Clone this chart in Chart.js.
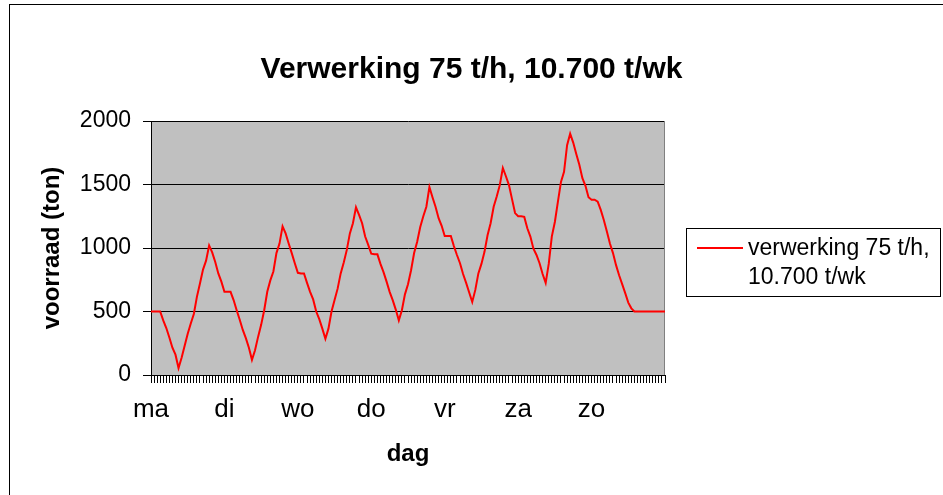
<!DOCTYPE html>
<html><head><meta charset="utf-8">
<script src="https://cdn.jsdelivr.net/npm/chart.js@4.4.1/dist/chart.umd.min.js"></script>
<style>html,body{margin:0;padding:0;background:#fff;} canvas{display:block;}</style>
</head><body>
<canvas id="c" width="943" height="495"></canvas>
<script>
const chartTitle = 'Verwerking 75 t/h, 10.700 t/wk';
const yAxisTitle = 'voorraad (ton)';
const xAxisTitle = 'dag';
const dayNames = ['ma', 'di', 'wo', 'do', 'vr', 'za', 'zo'];
const seriesNameLines = ['verwerking 75 t/h,', '10.700 t/wk'];
const yTicks = [0, 500, 1000, 1500, 2000];
// voorraad per uur (ton), uur 0 .. 168
const stock = [
  500, 500, 500, 500, 430, 370, 295, 215, 160, 55,
  135, 230, 325, 405, 480, 615, 720, 830, 900, 1020,
  965, 890, 800, 735, 655, 655, 655, 590, 510, 435,
  355, 290, 215, 120, 195, 300, 395, 510, 655, 745,
  815, 960, 1035, 1170, 1115, 1035, 960, 880, 805, 800,
  800, 725, 655, 595, 500, 440, 365, 285, 365, 500,
  590, 680, 800, 885, 985, 1115, 1195, 1320, 1260, 1195,
  1090, 1025, 955, 950, 950, 875, 810, 735, 655, 590,
  515, 430, 510, 635, 715, 825, 960, 1050, 1165, 1250,
  1325, 1480, 1400, 1325, 1235, 1175, 1095, 1095, 1095, 1015,
  945, 880, 795, 725, 650, 575, 670, 800, 875, 970,
  1100, 1195, 1325, 1405, 1495, 1630, 1565, 1495, 1385, 1275,
  1250, 1250, 1245, 1155, 1090, 995, 945, 880, 795, 725,
  875, 1090, 1205, 1365, 1520, 1600, 1810, 1900, 1830, 1740,
  1655, 1550, 1490, 1400, 1380, 1380, 1365, 1300, 1220, 1130,
  1035, 960, 865, 785, 715, 645, 570, 525, 500, 500,
  500, 500, 500, 500, 500, 500, 500, 500, 500
];
const hourLabels = stock.map((_, h) => (h % 24 === 0 && h / 24 < dayNames.length) ? dayNames[h / 24] : '');

Chart.defaults.font.family = "'Liberation Sans', Arial, sans-serif";
Chart.defaults.color = '#000';

const framePlugin = {
  id: 'frame',
  beforeDraw(chart) {
    const {ctx, chartArea: a} = chart;
    ctx.save();
    ctx.fillStyle = '#fff';
    ctx.fillRect(0, 0, chart.width, chart.height);
    ctx.strokeStyle = '#000';
    ctx.lineWidth = 1;
    ctx.strokeRect(9.5, 4.5, 2000, 2000);
    ctx.fillStyle = '#C0C0C0';
    ctx.fillRect(a.left, a.top, a.right - a.left, a.bottom - a.top);
    ctx.restore();
  },
  beforeDatasetsDraw(chart) {
    const {ctx, chartArea: a} = chart;
    ctx.save();
    ctx.strokeStyle = '#808080';
    ctx.lineWidth = 1;
    ctx.beginPath();
    ctx.moveTo(a.right - 0.5, a.top);
    ctx.lineTo(a.right - 0.5, a.bottom);
    ctx.stroke();
    ctx.restore();
  },
  afterDraw(chart) {
    const {ctx} = chart;
    const ds = chart.data.datasets[0];
    ctx.save();
    ctx.strokeStyle = '#000';
    ctx.lineWidth = 1;
    ctx.strokeRect(686.5, 228.5, 254, 68);
    ctx.strokeStyle = ds.borderColor;
    ctx.lineWidth = 2;
    ctx.beginPath();
    ctx.moveTo(697, 248);
    ctx.lineTo(743, 248);
    ctx.stroke();
    ctx.fillStyle = '#000';
    ctx.font = "23px 'Liberation Sans', Arial, sans-serif";
    ctx.textAlign = 'left';
    ctx.textBaseline = 'alphabetic';
    seriesNameLines.forEach((t, i) => ctx.fillText(t, 748, 255 + i * 28.5));
    ctx.restore();
  }
};

new Chart(document.getElementById('c'), {
  type: 'line',
  data: {
    labels: hourLabels,
    datasets: [{
      label: seriesNameLines.join(' '),
      data: stock,
      borderColor: '#FF0000',
      borderWidth: 2,
      pointRadius: 0,
      pointHoverRadius: 0,
      tension: 0,
      fill: false
    }]
  },
  options: {
    responsive: false,
    animation: false,
    events: [],
    layout: { padding: 0 },
    plugins: {
      legend: { display: false },
      tooltip: { enabled: false },
      title: {
        display: true,
        text: chartTitle,
        font: { size: 30, weight: 'bold' },
        color: '#000',
        padding: { top: 52, bottom: 33 }
      }
    },
    scales: {
      x: {
        type: 'category',
        offset: false,
        grid: { display: true, drawOnChartArea: false, drawTicks: true, tickLength: 8, color: '#000', lineWidth: 1 },
        border: { display: true, color: '#000', width: 1 },
        ticks: {
          autoSkip: false, maxRotation: 0, minRotation: 0, padding: 11,
          font: { size: 26 },
          color: '#000'
        },
        title: {
          display: true, text: xAxisTitle,
          font: { size: 24, weight: 'bold' }, color: '#000',
          padding: { top: 0, bottom: 26 }
        },
        afterFit(scale) { scale.height = 120; }
      },
      y: {
        min: 0, max: 2000,
        afterBuildTicks(scale) { scale.ticks = yTicks.map(v => ({ value: v })); },
        grid: { color: '#000', lineWidth: 1, tickLength: 8, drawTicks: true },
        border: { display: true, color: '#000', width: 1 },
        ticks: { padding: 12, font: { size: 23 }, color: '#000', callback: v => String(v) },
        title: {
          display: true, text: yAxisTitle,
          font: { size: 24, weight: 'bold' }, color: '#000',
          padding: { top: 38, bottom: 0 }
        },
        afterFit(scale) { scale.width = 151; }
      },
      legendSpace: {
        type: 'linear',
        position: 'right',
        display: true,
        grid: { display: false, drawTicks: false },
        border: { display: false },
        ticks: { display: false },
        title: { display: false },
        afterFit(scale) { scale.width = 278; }
      }
    }
  },
  plugins: [framePlugin]
});
</script>
</body></html>
